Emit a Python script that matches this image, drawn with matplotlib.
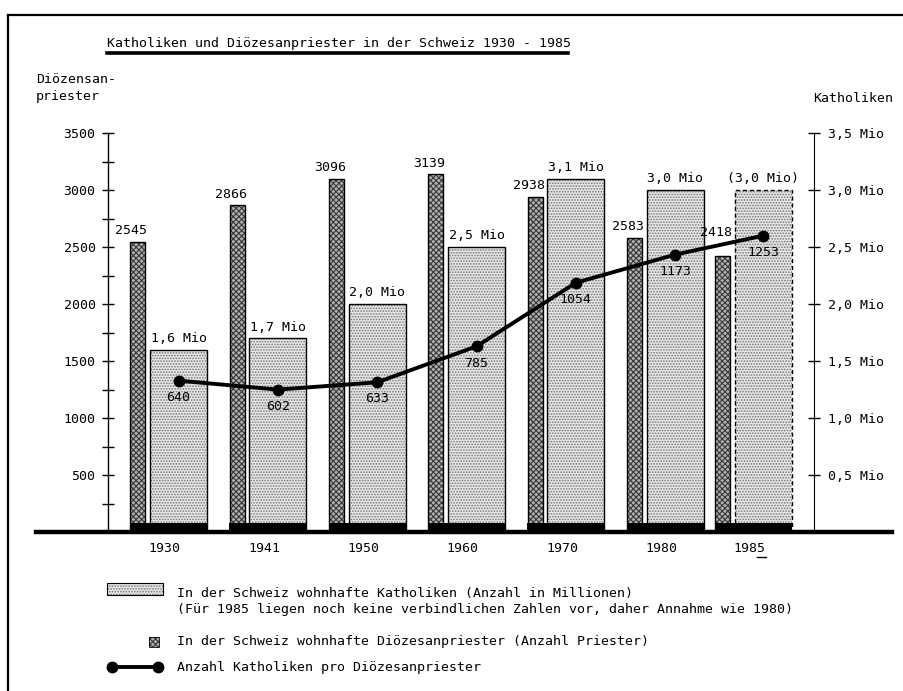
import matplotlib
matplotlib.use("Agg")
import matplotlib.pyplot as plt
from matplotlib.lines import Line2D
from matplotlib.patches import Rectangle
import numpy as np

# Daten
jahre = ["1930", "1941", "1950", "1960", "1970", "1980", "1985"]
priester = [2545, 2866, 3096, 3139, 2938, 2583, 2418]
katholiken_mio = [1.6, 1.7, 2.0, 2.5, 3.1, 3.0, 3.0]
kath_pro_priester = [640, 602, 633, 785, 1054, 1173, 1253]

titel = "Katholiken und Diözesanpriester in der Schweiz 1930 - 1985"
legende = [
    "In der Schweiz wohnhafte Katholiken (Anzahl in Millionen)",
    "(Für 1985 liegen noch keine verbindlichen Zahlen vor, daher Annahme wie 1980)",
    "In der Schweiz wohnhafte Diözesanpriester (Anzahl Priester)",
    "Anzahl Katholiken pro Diözesanpriester",
]

# Layout (Gruppenpositionen, 1985 etwas näher an 1980)
pos = np.array([0, 1, 2, 3, 4, 5, 5.886])
W, H = 904, 691

plt.rcParams["font.family"] = ["DejaVu Sans Mono"]
plt.rcParams["font.size"] = 9.5
plt.rcParams["hatch.linewidth"] = 0.8

hell_fc, hell_hc = "#e6e6e6", "#777777"
dunkel_fc, dunkel_hc = "#b0b0b0", "#383838"


def fx(x):
    return x / W


def fy(y):
    return 1 - y / H


fig = plt.figure(figsize=(W / 100, H / 100), dpi=100)
ax = fig.add_axes([fx(36), fy(532), (892 - 36) / W, (532 - 133) / H])
ax2 = ax.twinx()
ax3 = ax.twinx()

ax.set_xlim(-1.435, 7.182)
ax.set_ylim(0, 3500)
ax2.set_ylim(0, 3.5)
ax3.set_ylim(0, 1687)

# Priester (dunkle Balken)
px = pos - 0.41
ax.bar(px, priester, width=0.15, color=dunkel_fc, edgecolor=dunkel_hc,
       hatch="xxxxxx", linewidth=0, zorder=2)
ax.bar(px, priester, width=0.15, fill=False, edgecolor="black", linewidth=1, zorder=3)
# Beschriftung über den Balken (1985 etwas höher, damit die Linie frei bleibt)
dy_priester = [8, 8, 8, 8, 8, 8, 17]
for x, v, dy in zip(px, priester, dy_priester):
    ax3.annotate(str(v), (x + 0.075, v), xycoords=ax.transData,
                 xytext=(1.5, dy), textcoords="offset points",
                 ha="right", va="center")

# Katholiken (helle Balken)
ax2.bar(pos, katholiken_mio, width=0.573, color=hell_fc, edgecolor=hell_hc,
        hatch="......", linewidth=0, zorder=2)
ax2.bar(pos[:-1], katholiken_mio[:-1], width=0.573, fill=False,
        edgecolor="black", linewidth=1, zorder=3)
ax2.bar(pos[-1:], katholiken_mio[-1:], width=0.573, fill=False,
        edgecolor="black", linewidth=1, linestyle=(0, (3, 2)), zorder=3)
for i, (x, v) in enumerate(zip(pos, katholiken_mio)):
    lab = f"{v:.1f}".replace(".", ",") + " Mio"
    if i == len(pos) - 1:
        lab = "(" + lab + ")"
    ax2.annotate(lab, (x, v), xytext=(0, 8), textcoords="offset points",
                 ha="center", va="center")

# schwarzer Sockel je Gruppe
ax2.bar(pos - 0.10, 0.08, width=0.775, color="black", linewidth=0, zorder=4)

# Katholiken pro Priester
ax3.plot(pos, kath_pro_priester, "-o", color="black", linewidth=2.8,
         markersize=7.5, zorder=5)
for x, v in zip(pos, kath_pro_priester):
    ax3.annotate(str(v), (x, v), xytext=(0, -12), textcoords="offset points",
                 ha="center", va="center")

# Achsen
for s in ["top", "right", "bottom"]:
    ax.spines[s].set_visible(False)
ax.spines["left"].set_position(("data", -0.71))
ax.spines["left"].set_linewidth(1)
ax.set_yticks(range(500, 3501, 500))
ax.set_yticks(range(250, 3500, 500), minor=True)
ax.tick_params(axis="y", which="both", direction="inout", length=8, width=1, pad=5)
ax.set_xticks(pos - 0.14, jahre)
ax.tick_params(axis="x", length=0, pad=7)

for s in ["top", "left", "bottom"]:
    ax2.spines[s].set_visible(False)
ax2.spines["right"].set_position(("data", 6.40))
ax2.spines["right"].set_bounds(0, 3.5)
mio_ticks = np.arange(0.5, 3.51, 0.5)
ax2.set_yticks(mio_ticks)
ax2.set_yticklabels([f"{t:.1f}".replace(".", ",") + " Mio" for t in mio_ticks])
ax2.tick_params(axis="y", direction="inout", length=8, width=1, pad=6)

for s in ["top", "left", "right"]:
    ax3.spines[s].set_visible(False)
ax3.spines["bottom"].set_linewidth(3.2)
ax3.yaxis.set_visible(False)

# Texte
fig.text(fx(107), fy(43), titel, ha="left", va="center")
fig.add_artist(Line2D([fx(107), fx(568)], [fy(53), fy(53)], color="black", linewidth=2.6))
fig.text(fx(36), fy(88), "Diözensan-\npriester", ha="left", va="center", linespacing=1.45)
fig.text(fx(893), fy(98), "Katholiken", ha="right", va="center")

# Unterstrich unter der 5 von 1985
fig.add_artist(Line2D([fx(757), fx(766)], [fy(557), fy(557)], color="black", linewidth=1))

# Rahmen
fig.add_artist(Line2D([fx(8), 1], [fy(15), fy(15)], color="black", linewidth=1.6))
fig.add_artist(Line2D([fx(8), fx(8)], [0, fy(15)], color="black", linewidth=1.6))

# Legende
fig.add_artist(Rectangle((fx(107), fy(595)), (163 - 107) / W, 12 / H, transform=fig.transFigure,
                         facecolor=hell_fc, edgecolor=hell_hc, hatch="......", linewidth=0))
fig.add_artist(Rectangle((fx(107), fy(595)), (163 - 107) / W, 12 / H, transform=fig.transFigure,
                         fill=False, edgecolor="black", linewidth=0.8))
fig.add_artist(Rectangle((fx(149), fy(647)), 10 / W, 10 / H, transform=fig.transFigure,
                         facecolor=dunkel_fc, edgecolor=dunkel_hc, hatch="xxxxxx", linewidth=0))
fig.add_artist(Rectangle((fx(149), fy(647)), 10 / W, 10 / H, transform=fig.transFigure,
                         fill=False, edgecolor="black", linewidth=0.6))
fig.add_artist(Line2D([fx(112), fx(158)], [fy(667), fy(667)], color="black",
                      linewidth=2.8, marker="o", markersize=7.5))
for txt, yy in zip(legende, [594, 610, 642, 667]):
    fig.text(fx(177), fy(yy), txt, ha="left", va="center")

fig.savefig("out.png", dpi=100)
